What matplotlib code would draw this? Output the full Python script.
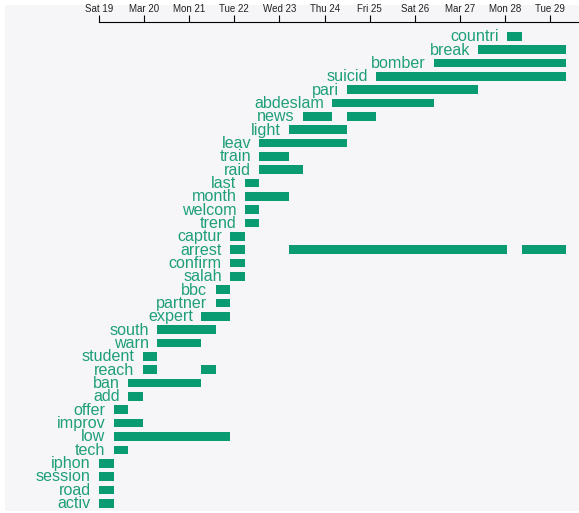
import datetime as dt

import matplotlib.pyplot as plt
import matplotlib.dates as mdates
from matplotlib.patches import Rectangle

# words, top to bottom, and their active spans in time bins (start, end)
words = ["countri", "break", "bomber", "suicid", "pari", "abdeslam", "news",
         "light", "leav", "train", "raid", "last", "month", "welcom", "trend",
         "captur", "arrest", "confirm", "salah", "bbc", "partner", "expert",
         "south", "warn", "student", "reach", "ban", "add", "offer", "improv",
         "low", "tech", "iphon", "session", "road", "activ"]
spans = [
    [(28, 29)], [(26, 32)], [(23, 32)], [(19, 32)], [(17, 26)], [(16, 23)],
    [(14, 16), (17, 19)], [(13, 17)], [(11, 17)], [(11, 13)], [(11, 14)],
    [(10, 11)], [(10, 13)], [(10, 11)], [(10, 11)],
    [(9, 10)], [(9, 10), (13, 28), (29, 32)], [(9, 10)], [(9, 10)],
    [(8, 9)], [(8, 9)], [(7, 9)], [(4, 8)], [(4, 7)], [(3, 4)],
    [(3, 4), (7, 8)], [(2, 7)], [(2, 3)], [(1, 2)], [(1, 3)], [(1, 9)],
    [(1, 2)], [(0, 1)], [(0, 1)], [(0, 1)], [(0, 1)],
]
t0 = dt.datetime(2016, 3, 19)
bin_hours = 7.76
t_end = t0 + dt.timedelta(days=10.64)
tick_labels = ["Sat 19", "Mar 20", "Mon 21", "Tue 22", "Wed 23", "Thu 24",
               "Fri 25", "Sat 26", "Mar 27", "Mon 28", "Tue 29"]

green = "#0b9b73"
W, H = 579, 513
fig = plt.figure(figsize=(W / 100, H / 100), dpi=100)
fig.patch.set_facecolor("white")
fig.add_artist(Rectangle((5 / W, 2 / H), 1, 1 - 7 / H, transform=fig.transFigure,
                         facecolor="#f6f6f8", edgecolor="none", zorder=0))

ax = fig.add_axes([99 / W, 0, 1 - 99 / W, 1 - 22 / H])
ax.set_facecolor("none")
ax.set_xlim(mdates.date2num(t0), mdates.date2num(t_end))
row = 13.34
ax.set_ylim((513 - 36.3) / row, (22 - 36.3) / row)


def t(b):
    return mdates.date2num(t0 + dt.timedelta(hours=b * bin_hours))


for i, (w, segs) in enumerate(zip(words, spans)):
    for s, e in segs:
        ax.barh(i, t(e) - t(s), left=t(s), height=0.65, color=green,
                edgecolor="none")
    ax.annotate(w, (t(segs[0][0]), i), xytext=(-6, -0.3), textcoords="offset points",
                ha="right", va="center", color="#1f9f79", fontsize=11.6,
                family="Liberation Sans", annotation_clip=False)

ax.xaxis.tick_top()
ticks = [mdates.date2num(t0 + dt.timedelta(days=d)) for d in range(len(tick_labels))]
ax.set_xticks(ticks)
ax.set_xticklabels(tick_labels, fontsize=7, family="Liberation Sans", color="#222222")
ax.tick_params(axis="x", direction="out", length=5, width=0.8, pad=1)
ax.set_yticks([])
for side in ["left", "right", "bottom"]:
    ax.spines[side].set_visible(False)
ax.spines["top"].set_linewidth(0.8)

fig.savefig("out.png", dpi=100)
